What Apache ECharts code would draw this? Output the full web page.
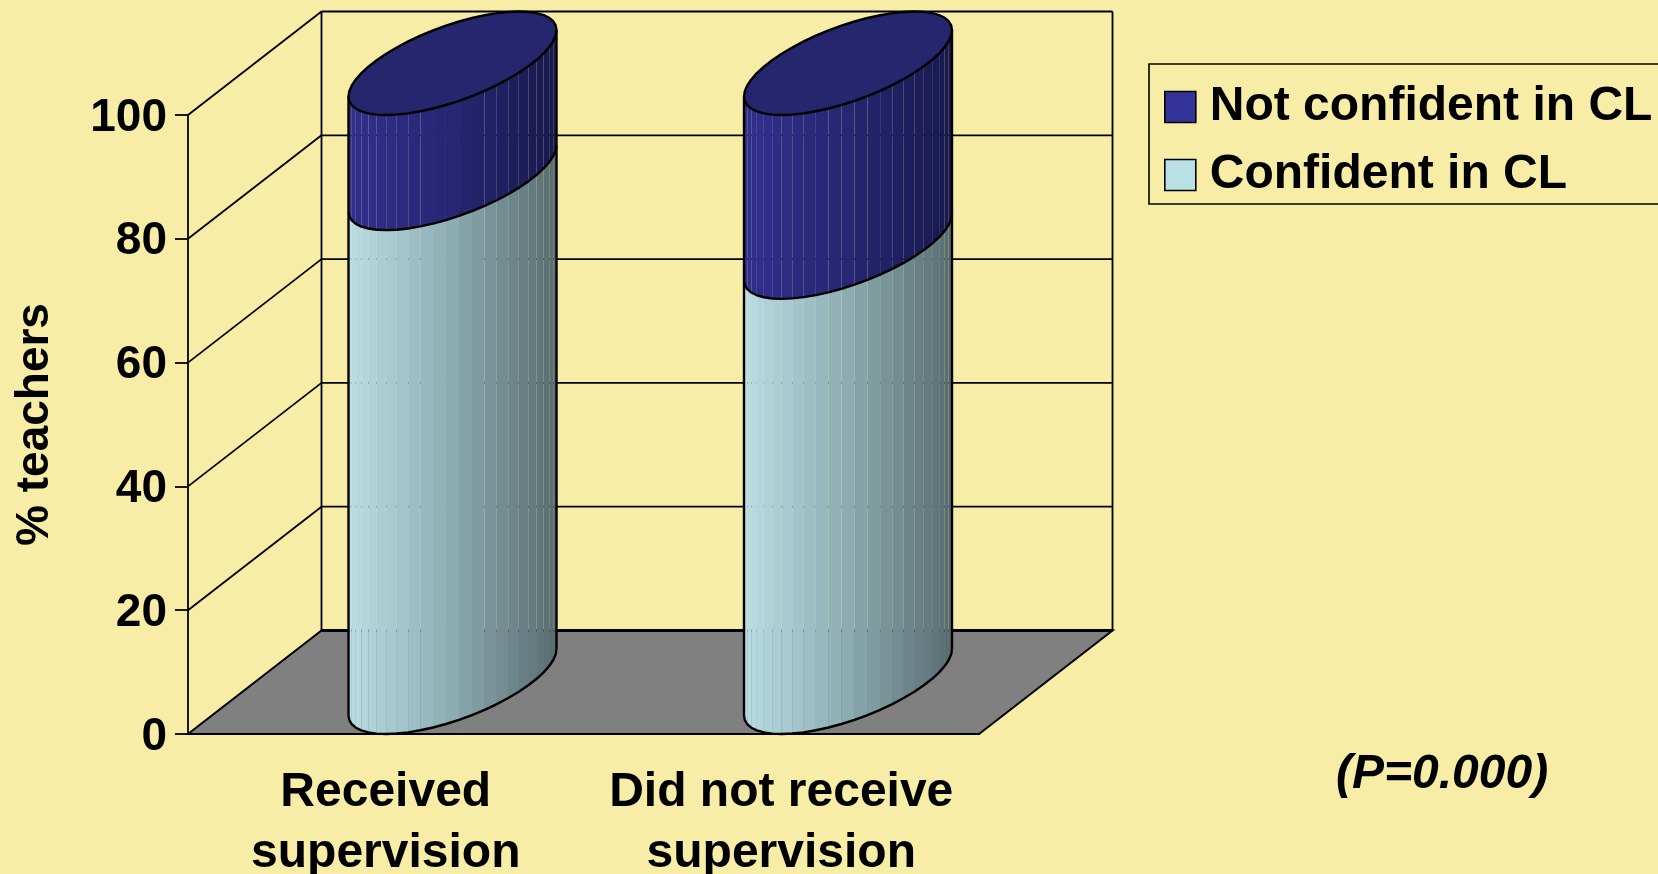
<!DOCTYPE html>
<html>
<head>
<meta charset="utf-8">
<style>html,body{margin:0;padding:0;background:#F7EDA7}#c{width:1658px;height:874px}</style>
<script src="https://cdn.jsdelivr.net/npm/echarts@6/dist/echarts.min.js"></script>
</head>
<body>
<div id="c"></div>
<script>
const categories = ['Received\nsupervision', 'Did not receive\nsupervision'];
const confident = [81.4, 70.3];
const notConfident = [18.6, 29.7];
const yTicks = [0, 20, 40, 60, 80, 100];
const seriesNames = ['Confident in CL', 'Not confident in CL'];
const pNote = '(P=0.000)';
const yTitle = '% teachers';

const FONT = '"Liberation Sans", Arial, sans-serif';
const DEPTH_X = 133.5, DEPTH_Y = 103.5;
const RADIUS = 104, HALF_H = 51.75, PHI = Math.atan2(66.75, 80), STEP = Math.PI / 25;
const lerp = (a, b, u) => a.map((v, i) => Math.round(v + (b[i] - v) * u));
const rgb = c => `rgb(${c[0]},${c[1]},${c[2]})`;
const PALETTE = [
  {stops: [[186, 222, 228], [140, 172, 177], [88, 108, 112]]},
  {stops: [[50, 47, 142], [38, 38, 114], [24, 25, 78]], cap: '#26266F'}
];
const shade = (stops, u) => u < .5 ? lerp(stops[0], stops[1], u * 2) : lerp(stops[1], stops[2], u * 2 - 1);
const ring = (c, th) => [c[0] + RADIUS * Math.cos(th), c[1] - HALF_H * Math.sin(th + PHI)];
const LINE = {stroke: '#000', lineWidth: 2.4, fill: null, lineJoin: 'round'};

function cylinder(seriesIndex) {
  return function (params, api) {
    const top = api.coord([api.value(0), api.value(1)]);
    const base = api.coord([api.value(0), api.value(2)]);
    const cx = top[0] + DEPTH_X / 2;
    const cTop = [cx, top[1] - DEPTH_Y / 2], cBase = [cx, base[1] - DEPTH_Y / 2];
    const pal = PALETTE[seriesIndex];
    const kids = [];
    const lower = [];
    for (let th = Math.PI; th < 2 * Math.PI - 1e-6; th += STEP) {
      const nx = th + STEP;
      const a = ring(cTop, th), b = ring(cTop, nx), c = ring(cBase, nx), d = ring(cBase, th);
      const u = ((a[0] + b[0]) / 2 - cx + RADIUS) / (2 * RADIUS);
      kids.push({type: 'polygon', silent: true, shape: {points: [a, b, c, d]}, style: {fill: rgb(shade(pal.stops, u))}});
      lower.push(d);
    }
    const lastBase = ring(cBase, 2 * Math.PI);
    lower.push(lastBase);
    kids.push({type: 'polyline', silent: true, shape: {points: lower}, style: LINE});
    const lt = ring(cTop, Math.PI), rt = ring(cTop, 2 * Math.PI);
    kids.push({type: 'line', silent: true, shape: {x1: lt[0], y1: lt[1], x2: lower[0][0], y2: lower[0][1]}, style: LINE});
    kids.push({type: 'line', silent: true, shape: {x1: rt[0], y1: rt[1], x2: lastBase[0], y2: lastBase[1]}, style: LINE});
    if (pal.cap) {
      const pts = [];
      for (let th = 0; th < 2 * Math.PI - 1e-6; th += STEP) pts.push(ring(cTop, th));
      kids.push({type: 'polygon', silent: true, shape: {points: pts}, style: {fill: pal.cap, stroke: '#000', lineWidth: 2.4, lineJoin: 'round'}});
    }
    return {type: 'group', children: kids};
  };
}

function walls(params, api) {
  const g = params.coordSys;
  const p = api.coord([0, api.value(1)]);
  const y = p[1];
  const x0 = g.x, x1 = g.x + g.width;
  const kids = [];
  const WALL = {stroke: '#000', lineWidth: 1.8};
  if (api.value(1) === 0) {
    kids.push({type: 'polygon', silent: true, shape: {points: [[x0, y], [x1, y], [x1 + DEPTH_X, y - DEPTH_Y], [x0 + DEPTH_X, y - DEPTH_Y]]},
      style: {fill: '#808080', stroke: '#000', lineWidth: 2}});
    kids.push({type: 'line', silent: true, shape: {x1: x0 + DEPTH_X, y1: y - DEPTH_Y, x2: x1 + DEPTH_X, y2: y - DEPTH_Y}, style: {stroke: '#000', lineWidth: 3}});
    const topY = api.coord([0, yTicks[yTicks.length - 1]])[1] - DEPTH_Y;
    kids.push({type: 'line', silent: true, shape: {x1: x0 + DEPTH_X, y1: y - DEPTH_Y, x2: x0 + DEPTH_X, y2: topY}, style: WALL});
    kids.push({type: 'line', silent: true, shape: {x1: x1 + DEPTH_X, y1: y - DEPTH_Y, x2: x1 + DEPTH_X, y2: topY}, style: WALL});
  } else {
    kids.push({type: 'line', silent: true, shape: {x1: x0, y1: y, x2: x0 + DEPTH_X, y2: y - DEPTH_Y}, style: WALL});
    kids.push({type: 'line', silent: true, shape: {x1: x0 + DEPTH_X, y1: y - DEPTH_Y, x2: x1 + DEPTH_X, y2: y - DEPTH_Y}, style: WALL});
  }
  return {type: 'group', children: kids};
}

const stacked = (vals, bases) => vals.map((v, i) => [i, bases[i] + v, bases[i]]);
const chart = echarts.init(document.getElementById('c'), null, {renderer: 'canvas'});
chart.setOption({
  animation: false,
  backgroundColor: '#F7EDA7',
  grid: {left: 188, right: 679, top: 115, bottom: 140, outerBoundsMode: 'none'},
  xAxis: {
    type: 'category', data: categories, z: 5,
    axisLine: {lineStyle: {color: '#000', width: 2.2}},
    axisTick: {length: 13, lineStyle: {color: '#000', width: 1.8}},
    axisLabel: {color: '#000', fontFamily: FONT, fontWeight: 'bold', fontSize: 48, lineHeight: 61.5, margin: 28, interval: 0}
  },
  yAxis: {
    type: 'value', min: 0, max: 100, interval: 20, z: 5,
    name: yTitle, nameLocation: 'middle', nameRotate: 90, nameGap: 130,
    nameTextStyle: {color: '#000', fontFamily: FONT, fontWeight: 'bold', fontSize: 46},
    axisLine: {show: true, lineStyle: {color: '#000', width: 1.8}},
    axisTick: {show: true, length: 13, lineStyle: {color: '#000', width: 1.8}},
    axisLabel: {color: '#000', fontFamily: FONT, fontWeight: 'bold', fontSize: 46, margin: 21, verticalAlign: 'top', lineHeight: 6},
    splitLine: {show: false}
  },
  legend: {
    orient: 'vertical', left: 1149, top: 64,
    padding: [19, 40, 5, 15], itemGap: 20, itemWidth: 31, itemHeight: 31, borderColor: '#000', borderWidth: 1.6,
    selectedMode: false,
    textStyle: {color: '#000', fontFamily: FONT, fontWeight: 'bold', fontSize: 48, padding: [0, 0, 0, 9]},
    data: [
      {name: seriesNames[1], icon: 'rect', itemStyle: {color: '#333399', borderColor: '#000', borderWidth: 1.6}},
      {name: seriesNames[0], icon: 'rect', itemStyle: {color: '#B9E0E5', borderColor: '#000', borderWidth: 1.6}}
    ]
  },
  graphic: [{type: 'text', left: 1336, top: 751, style: {text: pNote, fill: '#000', font: `italic bold 48px ${FONT}`}}],
  series: [
    {type: 'custom', name: 'walls', coordinateSystem: 'cartesian2d', z: 1, clip: false, renderItem: walls,
      encode: {x: 0, y: 1}, data: yTicks.map(v => [0, v])},
    {type: 'custom', name: seriesNames[0], coordinateSystem: 'cartesian2d', z: 2, clip: false, renderItem: cylinder(0),
      encode: {x: 0, y: 1}, data: stacked(confident, confident.map(() => 0))},
    {type: 'custom', name: seriesNames[1], coordinateSystem: 'cartesian2d', z: 3, clip: false, renderItem: cylinder(1),
      encode: {x: 0, y: 1}, data: stacked(notConfident, confident)}
  ]
});
</script>
</body>
</html>
